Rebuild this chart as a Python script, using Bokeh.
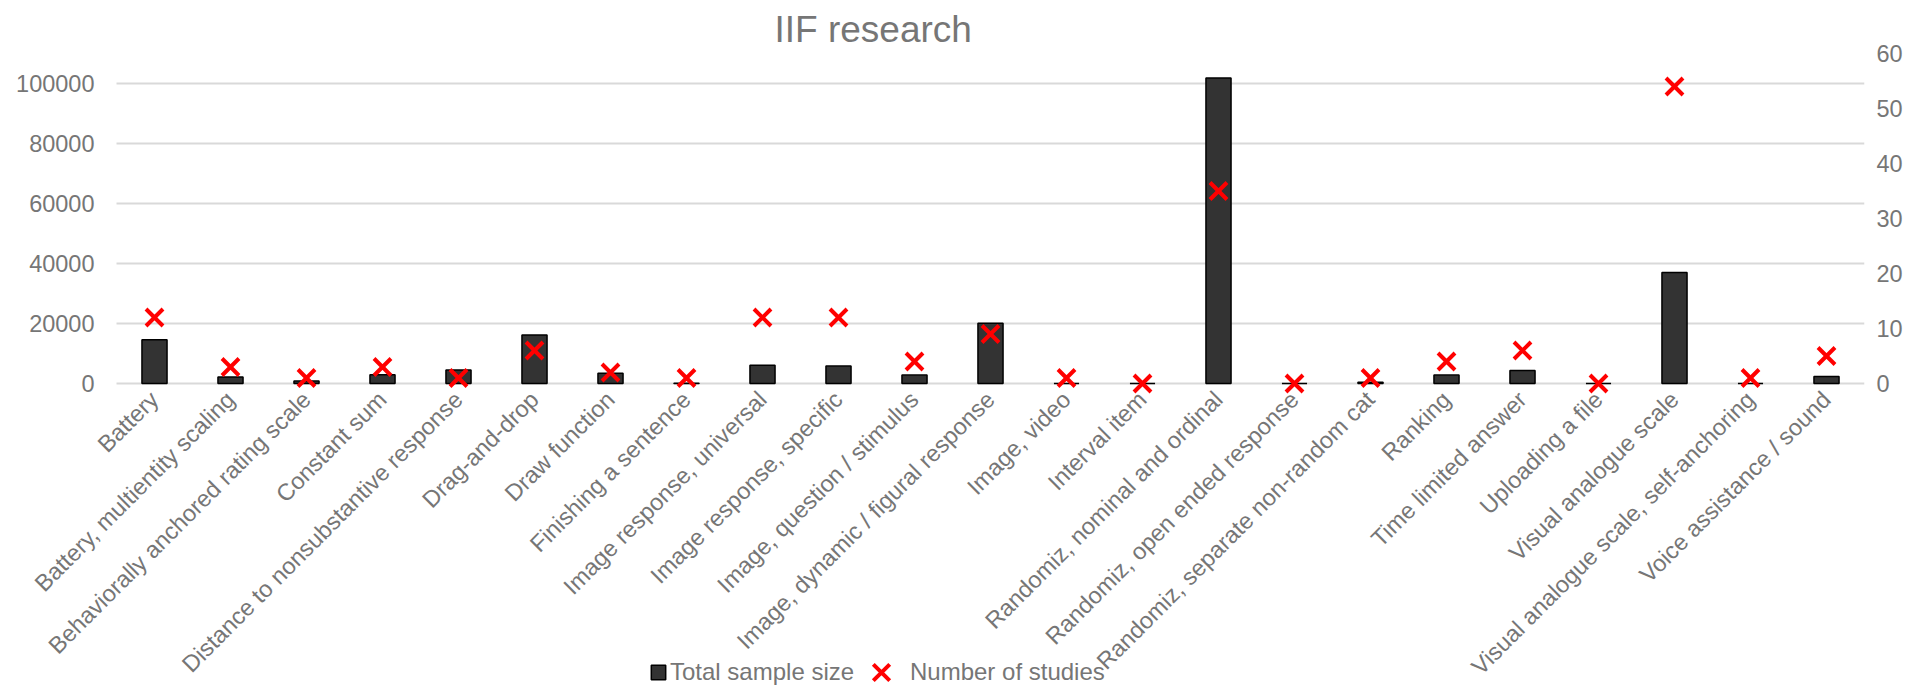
import math
from bokeh.plotting import figure
from bokeh.models import (Range1d, LinearAxis, FixedTicker, Legend,
                          LegendItem, NumeralTickFormatter, ColumnDataSource)
from bokeh.embed import file_html
from bokeh.resources import INLINE

categories = [
    "Battery", "Battery, multientity scaling", "Behaviorally anchored rating scale",
    "Constant sum", "Distance to nonsubstantive response", "Drag-and-drop",
    "Draw function", "Finishing a sentence", "Image response, universal",
    "Image response, specific", "Image, question / stimulus",
    "Image, dynamic / figural response", "Image, video", "Interval item",
    "Randomiz, nominal and ordinal", "Randomiz, open ended response",
    "Randomiz, separate non-random cat", "Ranking", "Time limited answer",
    "Uploading a file", "Visual analogue scale", "Visual analogue scale, self-anchoring",
    "Voice assistance / sound",
]
total_sample_size = [14600, 2200, 800, 2900, 4500, 16200, 3400, 100, 6100, 5800,
                     2800, 20100, 0, 0, 101800, 0, 400, 2800, 4300, 0, 37000, 0, 2300]
number_of_studies = [12, 3, 1, 3, 1, 6, 2, 1, 12, 12, 4, 9, 1, 0, 35, 0, 1, 4, 6, 0, 54, 1, 5]
left_ticks = [0, 20000, 40000, 60000, 80000, 100000]
right_ticks = [0, 10, 20, 30, 40, 50, 60]
title_text = "IIF research"

TXT = "#767676"
FONT = "Liberation Sans"
FS = "23.5px"

N = len(categories)
positions = list(range(N))          # category slots on the x scale
cat_left, cat_right = -0.5, N - 0.5  # edges of the category area

# layout (px): value area 330 tall, the frame continues 304 px below zero so
# that rotated category labels and the legend share that area; the frame also
# extends 108 px to the left so long rotated labels are not clipped.
PLOT_H, BELOW_H = 330, 304
PLOT_W, LEFT_EXTRA = 1748, 108
L_MAX, R_MAX = 110000, 60
L_MIN = -L_MAX * BELOW_H / PLOT_H
R_MIN = -R_MAX * BELOW_H / PLOT_H
X_MIN = cat_left - N * LEFT_EXTRA / PLOT_W

src = ColumnDataSource(dict(x=positions, cat=categories,
                            total=total_sample_size, n=number_of_studies))

p = figure(frame_width=PLOT_W + LEFT_EXTRA, frame_height=PLOT_H + BELOW_H,
           x_range=Range1d(X_MIN, cat_right), y_range=Range1d(L_MIN, L_MAX),
           output_backend="svg", toolbar_location=None,
           min_border_left=8, min_border_right=49, min_border_top=53,
           min_border_bottom=0, title=title_text)
p.extra_y_ranges = {"n": Range1d(R_MIN, R_MAX)}

p.outline_line_color = None
p.title.text_font = FONT
p.title.text_font_size = "37px"
p.title.text_font_style = "normal"
p.title.text_color = TXT
p.title.align = "left"
p.title.offset = 766
p.title.standoff = 8

# horizontal gridlines over the category area only
p.xgrid.visible = False
p.ygrid.visible = False
p.segment(x0=[cat_left] * len(left_ticks), x1=[cat_right] * len(left_ticks),
          y0=left_ticks, y1=left_ticks, line_color="#d9d9d9", line_width=2)

bars = p.vbar(x="x", top="total", bottom=0, width=0.33, source=src,
              fill_color="#333333", line_color="#000000", line_width=1.5)
marks = p.scatter(x="x", y="n", source=src, marker="x", size=24,
                  line_color="#ff0000", line_width=4, y_range_name="n")

yl = p.yaxis[0]
yl.fixed_location = cat_left
yl.ticker = FixedTicker(ticks=left_ticks)
yl.formatter = NumeralTickFormatter(format="0")
yl.axis_line_color = None
yl.major_tick_line_color = None
yl.minor_tick_line_color = None
yl.major_label_standoff = 16
yl.major_label_text_font = FONT
yl.major_label_text_font_size = FS
yl.major_label_text_color = TXT

yr = LinearAxis(y_range_name="n", ticker=FixedTicker(ticks=right_ticks))
yr.axis_line_color = None
yr.major_tick_line_color = None
yr.minor_tick_line_color = None
yr.major_label_standoff = 6
yr.major_label_text_font = FONT
yr.major_label_text_font_size = FS
yr.major_label_text_color = TXT
p.add_layout(yr, "right")

xa = p.xaxis[0]
xa.fixed_location = 0
xa.ticker = FixedTicker(ticks=positions)
xa.major_label_overrides = {i: c for i, c in zip(positions, categories)}
xa.axis_line_color = None
xa.major_tick_line_color = None
xa.minor_tick_line_color = None
xa.major_tick_out = 0
xa.major_label_orientation = math.pi / 4
xa.major_label_standoff = 12
xa.major_label_text_font = FONT
xa.major_label_text_font_size = FS
xa.major_label_text_color = TXT

leg1 = Legend(items=[LegendItem(label="Total sample size", renderers=[bars])],
              location=(641, 1), orientation="horizontal",
              glyph_width=18, glyph_height=18, label_standoff=3,
              padding=0, margin=0, spacing=0, border_line_color=None,
              background_fill_alpha=0, label_text_font=FONT,
              label_text_font_size="24px", label_text_color=TXT)
leg2 = Legend(items=[LegendItem(label="Number of studies", renderers=[marks])],
              location=(844, -14), orientation="horizontal",
              glyph_width=58, glyph_height=58, label_standoff=0,
              padding=0, margin=0, spacing=0, border_line_color=None,
              background_fill_alpha=0, label_text_font=FONT,
              label_text_font_size="24px", label_text_color=TXT)
p.add_layout(leg1, "center")
p.add_layout(leg2, "center")

open("out.html", "w").write(file_html(p, INLINE))
